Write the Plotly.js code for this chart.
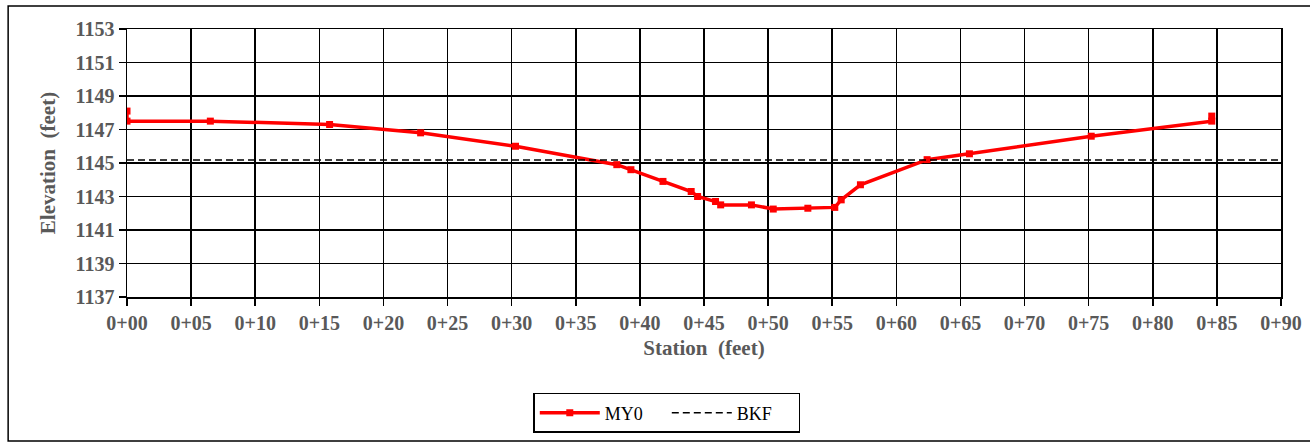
<!DOCTYPE html>
<html>
<head>
<meta charset="utf-8">
<script src="https://cdn.plot.ly/plotly-3.0.1.min.js"></script>
<style>
  html, body { margin: 0; padding: 0; background: #fff; }
  #chart { width: 1310px; height: 443px; }
</style>
</head>
<body>
<div id="chart"></div>
<script>
// Surveyed cross-section (station in feet, elevation in feet)
const station = [0, 0, 6.5, 15.8, 22.9, 30.3, 38.2, 39.3, 41.8, 44.0, 44.5, 45.9, 46.3, 48.7, 50.4, 53.1, 55.2, 55.7, 57.2, 62.4, 65.7, 75.2, 84.6, 84.6];
const elevation = [1148.1, 1147.5, 1147.5, 1147.3, 1146.8, 1146.0, 1144.9, 1144.6, 1143.9, 1143.3, 1143.0, 1142.7, 1142.5, 1142.5, 1142.25, 1142.3, 1142.35, 1142.8, 1143.7, 1145.2, 1145.55, 1146.6, 1147.5, 1147.8];

// Bankfull elevation across the section
const bkfStation = [0, 90];
const bkfElevation = [1145.18, 1145.18];

// Axis ticks
const xTickVals = [0, 5, 10, 15, 20, 25, 30, 35, 40, 45, 50, 55, 60, 65, 70, 75, 80, 85, 90];
const xTickText = ["0+00", "0+05", "0+10", "0+15", "0+20", "0+25", "0+30", "0+35", "0+40", "0+45", "0+50", "0+55", "0+60", "0+65", "0+70", "0+75", "0+80", "0+85", "0+90"];
const yTickVals = [1137, 1139, 1141, 1143, 1145, 1147, 1149, 1151, 1153];

const serif = "Liberation Serif";
const grey = "#595959";
const bold = s => "<b>" + s + "</b>";

const traces = [
  {
    x: station, y: elevation, name: "MY0", type: "scatter", mode: "lines+markers",
    line: { color: "#ff0000", width: 3.5 },
    marker: { color: "#ff0000", symbol: "square", size: 7 }
  },
  {
    x: bkfStation, y: bkfElevation, name: "BKF", type: "scatter", mode: "lines",
    line: { color: "#000000", width: 1.5, dash: "7px,4px" }
  }
];

const tickFont = { family: serif, size: 20, color: grey };
const titleFont = { family: serif, size: 21, color: grey };

const axisCommon = {
  showgrid: true, gridcolor: "#000000", gridwidth: 1.5,
  showline: true, linecolor: "#000000", linewidth: 1.5, mirror: true,
  ticks: "outside", ticklen: 7, tickcolor: "#000000", tickwidth: 1.5,
  zeroline: false, tickmode: "array",
  tickfont: tickFont
};

const layout = {
  width: 1310, height: 443,
  margin: { l: 127, r: 29, t: 29, b: 146 },
  paper_bgcolor: "#ffffff", plot_bgcolor: "#ffffff",
  font: { family: serif },
  showlegend: true,
  xaxis: Object.assign({}, axisCommon, {
    range: [0, 90], tickvals: xTickVals, ticktext: xTickText.map(bold),
    title: { text: bold("Station  (feet)"), standoff: 8, font: titleFont }
  }),
  yaxis: Object.assign({}, axisCommon, {
    range: [1137, 1153], tickvals: yTickVals, ticktext: yTickVals.map(v => bold(String(v))),
    title: { text: bold("Elevation  (feet)"), standoff: 14, font: titleFont }
  }),
  legend: {
    orientation: "h", xref: "container", yref: "container",
    x: 0.509, xanchor: "center", y: 0.113, yanchor: "top",
    bgcolor: "#ffffff", bordercolor: "#000000", borderwidth: 1.5,
    font: { family: serif, size: 18, color: "#000000" },
    itemwidth: 60, entrywidth: 57
  },
  shapes: [
    // chart frame
    { type: "rect", xref: "paper", yref: "paper", x0: -0.103, x1: 1.2, y0: -0.537, y1: 1.086,
      line: { color: "#000000", width: 1.5 }, fillcolor: "rgba(0,0,0,0)", layer: "below" }
  ]
};

Plotly.newPlot("chart", traces, layout, { displayModeBar: false, staticPlot: true });
</script>
</body>
</html>
